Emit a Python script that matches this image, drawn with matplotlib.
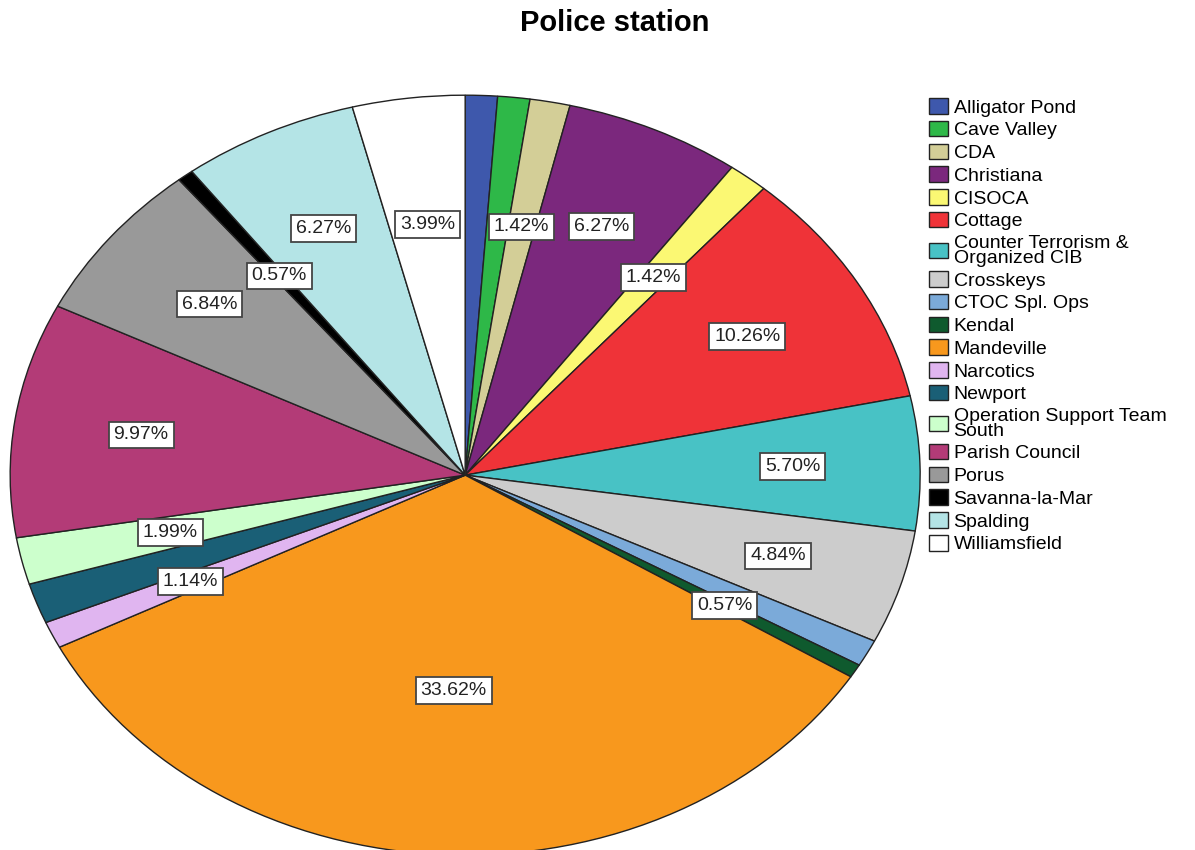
import numpy as np
import matplotlib
matplotlib.use("Agg")
import matplotlib.pyplot as plt

plt.rcParams['font.family'] = ['Liberation Sans', 'DejaVu Sans']

stations = ["Alligator Pond", "Cave Valley", "CDA", "Christiana", "CISOCA", "Cottage",
            "Counter Terrorism &\nOrganized CIB", "Crosskeys", "CTOC Spl. Ops", "Kendal",
            "Mandeville", "Narcotics", "Newport", "Operation Support Team\nSouth",
            "Parish Council", "Porus", "Savanna-la-Mar", "Spalding", "Williamsfield"]
counts = [4, 4, 5, 22, 5, 36, 20, 17, 4, 2, 118, 4, 6, 7, 35, 24, 2, 22, 14]
colors = ["#3E58AC", "#2EB848", "#D3CE97", "#7B287D", "#FBF873", "#EF3338",
          "#48C2C5", "#CCCCCC", "#7BAAD9", "#0F5A2E", "#F8981D", "#E0B5F0",
          "#1A5F76", "#CCFFCC", "#B33B77", "#999999", "#000000", "#B4E4E6", "#FFFFFF"]
# slices that carry a percentage label in the original
labelled = ["CDA", "Christiana", "CISOCA", "Cottage", "Counter Terrorism &\nOrganized CIB",
            "Crosskeys", "Kendal", "Mandeville", "Narcotics",
            "Operation Support Team\nSouth", "Parish Council", "Porus",
            "Savanna-la-Mar", "Spalding", "Williamsfield"]

fig = plt.figure(figsize=(11.95, 8.5), dpi=100)
ax = fig.add_axes([0.0085, -0.006, 0.7615, 0.894])

wedges, _ = ax.pie(counts, colors=colors, startangle=90, counterclock=False,
                   wedgeprops=dict(edgecolor="#222222", linewidth=1.0))
ax.set_aspect('auto')
ax.set_xlim(-1.0, 1.0)
ax.set_ylim(-1.0, 1.0)

total = sum(counts)
for w, name, c in zip(wedges, stations, counts):
    if name not in labelled:
        continue
    mid = np.deg2rad((w.theta1 + w.theta2) / 2)
    if name == "Mandeville":
        r = 0.567
    elif c >= 17:
        r = 0.72
    else:
        r = 0.665
    ax.text(r * np.cos(mid), r * np.sin(mid), f"{100 * c / total:.2f}%",
            ha="center", va="center", fontsize=14, color="#222222",
            bbox=dict(boxstyle="square,pad=0.25", facecolor="white",
                      edgecolor="#444444", linewidth=1.3))

fig.text(0.514, 0.973, "Police station", ha="center", va="center",
         fontsize=21, fontweight="bold")

leg = fig.legend(wedges, stations, loc="upper left", bbox_to_anchor=(0.7695, 0.896),
                 frameon=False, fontsize=14, handlelength=0.95, handleheight=0.85,
                 handletextpad=0.3, labelspacing=0.22, borderpad=0.0)
for t in leg.get_texts():
    t.set_linespacing(0.85)

fig.savefig("out.png", dpi=100)
